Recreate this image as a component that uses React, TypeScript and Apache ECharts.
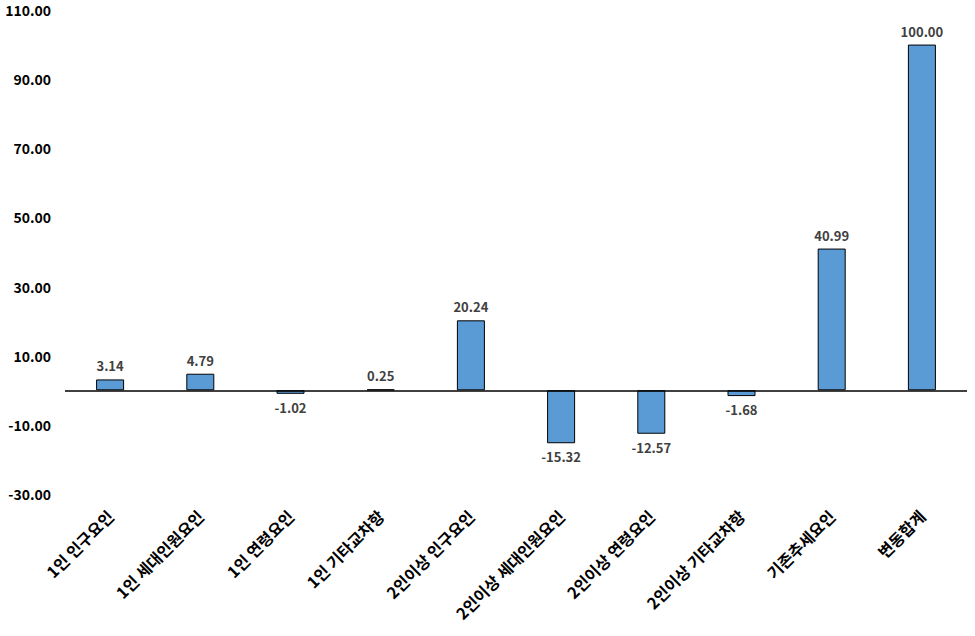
import React, { useEffect, useRef } from "react";
import * as echarts from "echarts";

const categories = [
  "1인 인구요인",
  "1인 세대인원요인",
  "1인 연령요인",
  "1인 기타교차항",
  "2인이상 인구요인",
  "2인이상 세대인원요인",
  "2인이상 연령요인",
  "2인이상 기타교차항",
  "기존추세요인",
  "변동합계",
];
const values = [3.14, 4.79, -1.02, 0.25, 20.24, -15.32, -12.57, -1.68, 40.99, 100.0];
const yMin = -30;
const yMax = 110;
const yInterval = 20;

const FONT = "'Noto Sans CJK KR', 'Noto Sans', sans-serif";

export default function App() {
  const ref = useRef<HTMLDivElement>(null);
  useEffect(() => {
    if (!ref.current) return;
    const chart = echarts.init(ref.current, undefined, { renderer: "svg" });
    chart.setOption({
      animation: false,
      backgroundColor: "#ffffff",
      grid: { left: 65, right: 8, top: 10, bottom: 142, containLabel: false },
      xAxis: {
        type: "category",
        data: categories,
        axisLine: { show: false, onZero: false },
        axisTick: { show: false },
        axisLabel: {
          rotate: 45,
          interval: 0,
          margin: 19,
          color: "#000000",
          fontWeight: "bold",
          fontSize: 16,
          fontFamily: FONT,
        },
      },
      yAxis: {
        type: "value",
        min: yMin,
        max: yMax,
        interval: yInterval,
        axisLine: { show: false },
        axisTick: { show: false },
        splitLine: { show: false },
        axisLabel: {
          formatter: (v: number) => v.toFixed(2),
          color: "#000000",
          fontWeight: "bold",
          fontSize: 14,
          margin: 14,
          fontFamily: FONT,
        },
      },
      series: [
        {
          type: "bar",
          barWidth: 28,
          data: values.map((v) => ({
            value: v,
            label: { position: v < 0 ? "bottom" : "top" },
          })),
          itemStyle: { color: "#5B9BD5", borderColor: "#000000", borderWidth: 1 },
          label: {
            show: true,
            distance: 7,
            formatter: (p: any) => Number(p.value).toFixed(2),
            color: "#404040",
            fontWeight: "bold",
            fontSize: 13,
            fontFamily: FONT,
          },
          markLine: {
            silent: true,
            symbol: "none",
            label: { show: false },
            lineStyle: { color: "#000000", width: 1.5, type: "solid" },
            data: [{ yAxis: 0 }],
          },
        },
      ],
    });
    return () => chart.dispose();
  }, []);
  return (
    <div
      ref={ref}
      style={{ position: "absolute", left: 0, top: 0, width: 975, height: 636 }}
    />
  );
}
